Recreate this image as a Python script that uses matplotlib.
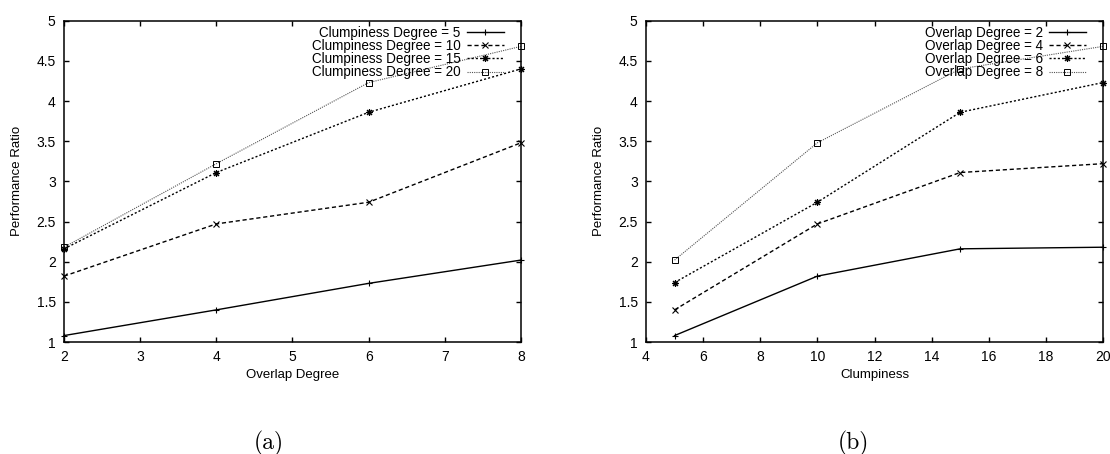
import matplotlib
matplotlib.use("Agg")
import matplotlib.pyplot as plt

# Panel (a)
overlap = [2, 4, 6, 8]
cd5 = [1.08, 1.40, 1.73, 2.02]
cd10 = [1.82, 2.47, 2.74, 3.48]
cd15 = [2.16, 3.11, 3.86, 4.40]
cd20 = [2.18, 3.22, 4.23, 4.68]
labels_a = ["Clumpiness Degree = 5", "Clumpiness Degree = 10",
            "Clumpiness Degree = 15", "Clumpiness Degree = 20"]

# Panel (b)
clump = [5, 10, 15, 20]
od2 = [1.08, 1.82, 2.16, 2.18]
od4 = [1.40, 2.47, 3.11, 3.22]
od6 = [1.74, 2.74, 3.86, 4.23]
od8 = [2.02, 3.48, 4.40, 4.68]
labels_b = ["Overlap Degree = 2", "Overlap Degree = 4",
            "Overlap Degree = 6", "Overlap Degree = 8"]

yticks = [1, 1.5, 2, 2.5, 3, 3.5, 4, 4.5, 5]
ytick_labels = ["1", "1.5", "2", "2.5", "3", "3.5", "4", "4.5", "5"]

plt.rcParams['font.family'] = ['Liberation Sans', 'DejaVu Sans']

styles = [
    dict(color='black', linestyle='-', marker='+', markersize=5, linewidth=1.0,
         markeredgewidth=0.8),
    dict(color='black', linestyle=(0, (3, 2)), marker='x', markersize=4, linewidth=1.0,
         markeredgewidth=0.8),
    dict(color='black', linestyle=(0, (1.5, 1.5)), marker=(8, 2, 0), markersize=5,
         linewidth=1.0, markeredgewidth=0.8),
    dict(color='#555555', linestyle=(0, (1, 1)), marker='s', markersize=4,
         markerfacecolor='none', markeredgecolor='black', markeredgewidth=0.7,
         linewidth=0.8),
]

W, H = 1110, 454
fig = plt.figure(figsize=(W / 100, H / 100), dpi=100)
ax1 = fig.add_axes([64 / W, 1 - 342 / H, 457 / W, 321.3 / H])
ax2 = fig.add_axes([646 / W, 1 - 342 / H, 457 / W, 321.3 / H])

def setup(ax, xs, series, labels, xlim, xticks, xlabel):
    for ys, lab, st in zip(series, labels, styles):
        ax.plot(xs, ys, label=lab, clip_on=False, **st)
    ax.set_xlim(*xlim)
    ax.set_ylim(1, 5)
    ax.set_xticks(xticks)
    ax.set_yticks(yticks)
    ax.set_yticklabels(ytick_labels)
    ax.tick_params(direction='in', top=True, right=True, labelsize=10,
                   length=3.5, width=1.0, pad=6)
    for s in ax.spines.values():
        s.set_linewidth(1.1)
    ax.set_xlabel(xlabel, fontsize=9.5, va='center')
    ax.set_ylabel("Performance Ratio", fontsize=9.5, va='center')
    ax.xaxis.set_label_coords(0.5, -0.103)
    ax.yaxis.set_label_coords(-0.103, 0.5)
    leg = ax.legend(loc='upper right', bbox_to_anchor=(0.963, 0.985),
                    frameon=False, markerfirst=False,
                    fontsize=9.75, handlelength=2.75, handletextpad=0.45,
                    labelspacing=-0.05, borderaxespad=0.0, borderpad=0.0)
    for t in leg.get_texts():
        t.set_ha('right')

setup(ax1, overlap, [cd5, cd10, cd15, cd20], labels_a, (2, 8),
      [2, 3, 4, 5, 6, 7, 8], "Overlap Degree")
setup(ax2, clump, [od2, od4, od6, od8], labels_b, (4, 20),
      [4, 6, 8, 10, 12, 14, 16, 18, 20], "Clumpiness")

fig.text(269 / W, 1 - 443 / H, "(a)", ha='center', va='center',
         fontsize=17, family=['cmr10', 'DejaVu Serif'])
fig.text(853 / W, 1 - 443 / H, "(b)", ha='center', va='center',
         fontsize=17, family=['cmr10', 'DejaVu Serif'])

fig.savefig("out.png", dpi=100)
